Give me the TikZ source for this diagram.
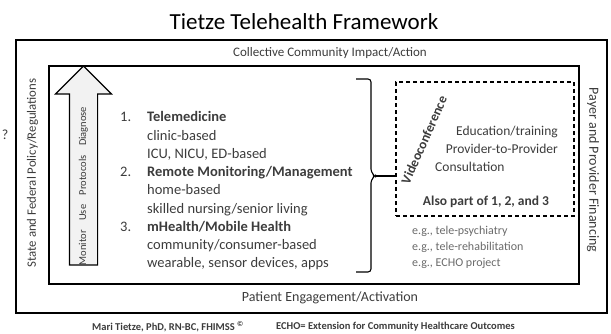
\documentclass[tikz,border=0pt]{standalone}
\usepackage{fontspec}
\setmainfont{Carlito}
\usetikzlibrary{shapes.arrows,positioning}
\definecolor{ink}{HTML}{3C3C3C}
\definecolor{soft}{HTML}{6A6A6A}
\newcommand{\fs}[2]{\fontsize{#1}{#2}\selectfont}
\begin{document}
\begin{tikzpicture}[x=1pt,y=-1pt,font=\fs{13}{15},
  frame/.style={draw,line width=1.2pt,inner sep=0pt},
  txt/.style={text=ink,inner sep=0pt},
  side/.style={txt,font=\fs{12.8}{15}},
  uparrow/.style={single arrow,draw,fill=black!5,line width=1.1pt,rotate=90,minimum height=199pt,minimum width=55pt,single arrow head extend=14pt,inner xsep=0pt,inner ysep=13.5pt},
  eg/.style={text=soft,inner sep=0pt,anchor=west,font=\fs{12}{14}}]
\useasboundingbox (0,0) rectangle (611,333);
\node[inner sep=0pt,font=\fs{23}{25}] (title) at (304,22) {Tietze Telehealth Framework};
\node[frame,minimum width=591pt,minimum height=273pt] (outer) at (311.5,176.5) {};
\node[frame,line width=1.1pt,minimum width=530pt,minimum height=218pt] (inner) at (314,175) {};
\node[txt] (top) at (330,53) {Collective Community Impact/Action};
\node[txt,font=\fs{14}{16}] (bottom) at (330,298) {Patient Engagement/Activation};
\node[side,rotate=90] (policy) at (32.5,173) {State and Federal Policy/Regulations};
\node[side,rotate=-90,font=\fs{14}{16}] (payer) at (593,170) {Payer and Provider Financing};
\node[txt,font=\fs{14}{16}] (qmark) at (5,135) {?};
\node[uparrow] (arrow) at (83.5,172.5) {};
\node[txt,rotate=90,font=\fs{10.5}{12}] (arrowtxt) at (83.5,186) {Monitor\hspace{0.9em}Use\hspace{0.9em}Protocols\hspace{0.9em}Diagnose};
\node[txt,anchor=north west,align=left,font=\fs{14.5}{18.25}] (list) at (120,111.5)
  {\makebox[27pt][l]{1.}\textbf{Telemedicine}\\
   \hspace*{27pt}clinic-based\\
   \hspace*{27pt}ICU, NICU, ED-based\\
   \makebox[27pt][l]{2.}\textbf{Remote Monitoring/Management}\\
   \hspace*{27pt}home-based\\
   \hspace*{27pt}skilled nursing/senior living\\
   \makebox[27pt][l]{3.}\textbf{mHealth/Mobile Health}\\
   \hspace*{27pt}community/consumer-based\\
   \hspace*{27pt}wearable, sensor devices, apps};
\node[frame,line width=1.1pt,dash pattern=on 4pt off 3pt,minimum width=178pt,minimum height=134pt] (vcbox) at (485,149) {};
\node[txt,rotate=66,font=\bfseries\fs{13.5}{15}] (vc) at (424,140) {Videoconference};
\node[txt,anchor=east,font=\fs{13.5}{16}] (edu) at (558,132) {Education/training};
\node[txt,anchor=east,font=\fs{13.5}{16}] (p2p) at (558,149) {Provider-to-Provider};
\node[txt,anchor=west,font=\fs{13.5}{16}] (cons) at (435,167) {Consultation};
\node[txt,font=\bfseries\fs{13.5}{16}] (also) at (486,202) {Also part of 1, 2, and 3};
\node[eg] (eg1) at (412,231) {e.g., tele-psychiatry};
\node[eg] (eg2) at (412,247) {e.g., tele-rehabilitation};
\node[eg] (eg3) at (412,263) {e.g., ECHO project};
\coordinate (bracetip) at (375,176);
\draw[line width=1.1pt,rounded corners=3pt] (356,79) -| (371,172) -- (bracetip) -- (371,180) |- (356,272);
\draw[line width=1.1pt] (bracetip) -- (bracetip -| vcbox.west);
\node[txt,anchor=west,font=\bfseries\fs{10.5}{12}] (author) at (92,327) {Mari Tietze, PhD, RN-BC, FHIMSS \textsuperscript{\copyright}};
\node[txt,anchor=west,font=\bfseries\fs{10.5}{12}] (echo) at (276,327) {ECHO= Extension for Community Healthcare Outcomes};
\end{tikzpicture}
\end{document}
